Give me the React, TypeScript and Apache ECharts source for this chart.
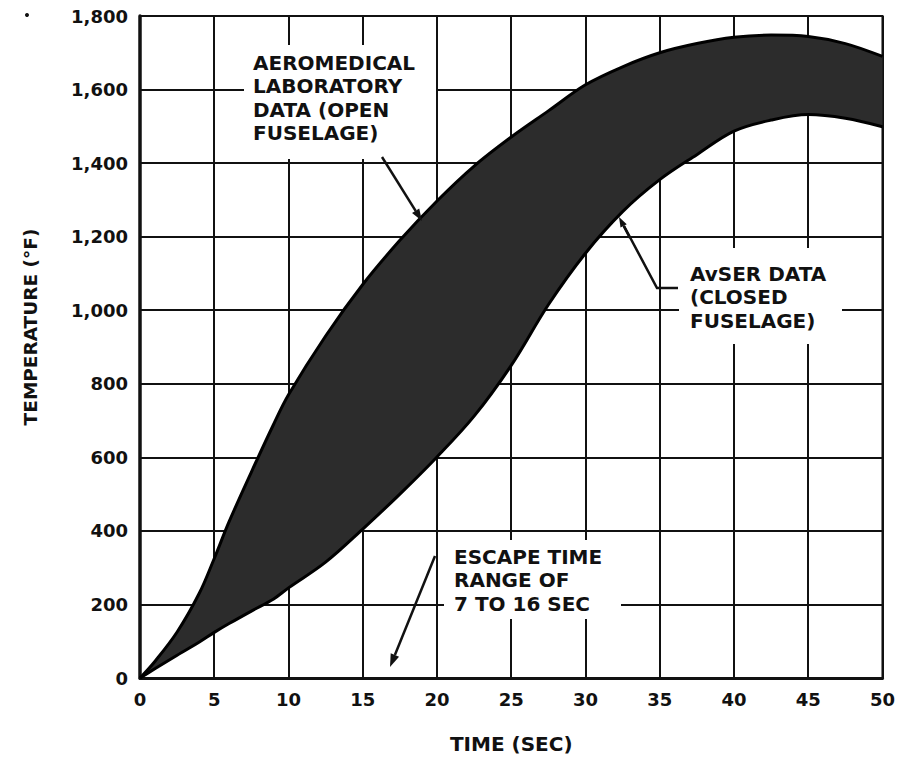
import React, { useEffect, useRef } from "react";
import * as echarts from "echarts";

const TIME_SEC = [0, 1, 2.5, 4, 5, 6, 7.5, 9, 10, 12.5, 15, 17.5, 20, 22.5, 25, 27.5, 30, 32.5, 35, 37.5, 40, 42.5, 45, 47.5, 50];
const AEROMED_OPEN = [0, 45, 125, 231, 325, 425, 560, 690, 770, 930, 1070, 1190, 1297, 1392, 1471, 1542, 1613, 1662, 1700, 1725, 1742, 1748, 1744, 1725, 1690];
const AVSER_CLOSED = [0, 25, 62, 98, 124, 148, 182, 215, 245, 315, 405, 500, 601, 712, 850, 1015, 1155, 1268, 1355, 1423, 1487, 1517, 1532, 1522, 1499];
const X_TICKS = [0, 5, 10, 15, 20, 25, 30, 35, 40, 45, 50];
const Y_TICKS = [0, 200, 400, 600, 800, 1000, 1200, 1400, 1600, 1800];

const FONT = "DejaVu Sans";

function arrow(x1: number, y1: number, x2: number, y2: number, len = 12, half = 4.2) {
  const dx = x2 - x1, dy = y2 - y1;
  const L = Math.hypot(dx, dy);
  const ux = dx / L, uy = dy / L;
  const bx = x2 - ux * len, by = y2 - uy * len;
  const px = -uy * half, py = ux * half;
  return [
    { type: "line", z: 20, shape: { x1, y1, x2: bx, y2: by }, style: { stroke: "#111", lineWidth: 2.5 } },
    { type: "polygon", z: 20, shape: { points: [[x2, y2], [bx + px, by + py], [bx - px, by - py]] }, style: { fill: "#111" } },
  ];
}

export default function App() {
  const ref = useRef<HTMLDivElement>(null);
  useEffect(() => {
    document.body.style.margin = "0";
    const chart = echarts.init(ref.current!, undefined, { renderer: "svg" });
    // rows are [temperature, time] so that stacking applies to temperature
    const lower = TIME_SEC.map((t, i) => [AVSER_CLOSED[i], t]);
    const diff = TIME_SEC.map((t, i) => [AEROMED_OPEN[i] - AVSER_CLOSED[i], t]);
    const txt = (x: number, y: number, s: string) => ({
      type: "text", z: 30, x, y,
      style: { text: s, font: `bold 20px "${FONT}"`, fill: "#111", lineHeight: 23.5 },
    });
    chart.setOption({
      animation: false,
      backgroundColor: "#fff",
      grid: { left: 140, right: 12, top: 16, bottom: 84, show: true, borderColor: "#111", borderWidth: 2 },
      xAxis: {
        type: "value", min: 0, max: 50, interval: 5,
        name: "TIME (SEC)", nameLocation: "middle", nameGap: 56,
        nameTextStyle: { fontFamily: FONT, fontWeight: "bold", fontSize: 20, color: "#111" },
        axisLine: { show: true, lineStyle: { color: "#111", width: 3 } },
        axisTick: { show: false },
        axisLabel: {
          fontFamily: FONT, fontWeight: "bold", fontSize: 18, color: "#111", margin: 12,
          formatter: (v: number) => (X_TICKS.includes(v) ? String(v) : ""),
        },
        splitLine: { show: true, lineStyle: { color: "#111", width: 2 } },
      },
      yAxis: {
        type: "value", min: 0, max: 1800, interval: 200,
        axisLine: { show: true, lineStyle: { color: "#111", width: 3.5 } },
        axisTick: { show: false },
        axisLabel: {
          fontFamily: FONT, fontWeight: "bold", fontSize: 18, color: "#111", margin: 12,
          formatter: (v: number) => (Y_TICKS.includes(v) ? v.toLocaleString("en-US") : ""),
        },
        splitLine: { show: true, lineStyle: { color: "#111", width: 2 } },
      },
      series: [
        {
          type: "line", name: "AvSER data (closed fuselage)", stack: "band",
          dimensions: ["temp", "time"], encode: { x: "time", y: "temp" }, data: lower,
          smooth: 0.35, showSymbol: false, lineStyle: { color: "#000", width: 3 }, z: 3,
        },
        {
          type: "line", name: "Aeromedical laboratory data (open fuselage)", stack: "band",
          dimensions: ["temp", "time"], encode: { x: "time", y: "temp" }, data: diff,
          smooth: 0.35, showSymbol: false, lineStyle: { color: "#000", width: 3 },
          areaStyle: { color: "#2c2c2c", opacity: 1 }, z: 3,
        },
      ],
      graphic: [
        {
          type: "text", z: 30, x: 30, y: 327, rotation: Math.PI / 2,
          style: {
            text: "TEMPERATURE (°F)", font: `bold 18.5px "${FONT}"`, fill: "#111",
            textAlign: "center", textVerticalAlign: "middle",
          },
        },
        { type: "rect", z: 10, shape: { x: 244, y: 45, width: 192, height: 114 }, style: { fill: "#fff" } },
        { type: "rect", z: 10, shape: { x: 679, y: 248, width: 163, height: 96 }, style: { fill: "#fff" } },
        { type: "rect", z: 10, shape: { x: 444, y: 540, width: 177, height: 79 }, style: { fill: "#fff" } },
        txt(253, 51, "AEROMEDICAL\nLABORATORY\nDATA (OPEN\nFUSELAGE)"),
        txt(690, 262, "AvSER DATA\n(CLOSED\nFUSELAGE)"),
        txt(454, 545, "ESCAPE TIME\nRANGE OF\n7 TO 16 SEC"),
        ...arrow(382, 157, 422, 221),
        { type: "polyline", z: 20, shape: { points: [[678, 288], [657, 288], [624, 226]] }, style: { stroke: "#111", lineWidth: 2.5, fill: null } },
        ...arrow(630, 238, 619, 217, 10, 3.5),
        ...arrow(435, 556, 390, 667, 13, 4.5),
        { type: "circle", z: 20, shape: { cx: 27, cy: 15, r: 2 }, style: { fill: "#111" } },
      ],
    });
    return () => chart.dispose();
  }, []);
  return <div ref={ref} style={{ width: 898, height: 762 }} />;
}
